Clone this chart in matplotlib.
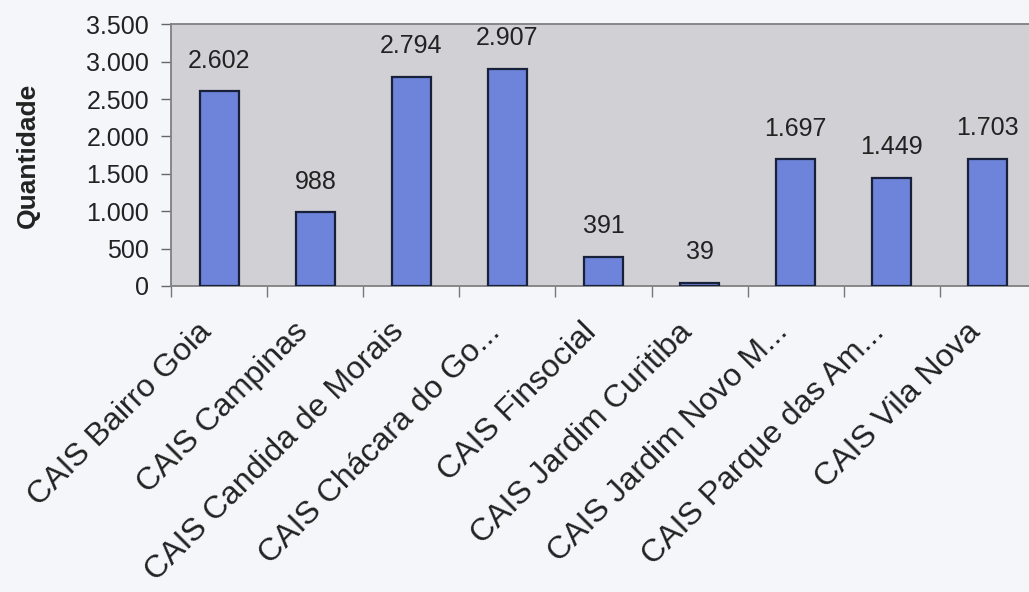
import matplotlib
matplotlib.use('Agg')
import matplotlib.pyplot as plt
import matplotlib.transforms as mtransforms
import numpy as np
from matplotlib.ticker import FuncFormatter, FixedLocator

# data
unidades = ['CAIS Bairro Goia', 'CAIS Campinas', 'CAIS Candida de Morais',
            'CAIS Chácara do Go...', 'CAIS Finsocial', 'CAIS Jardim Curitiba',
            'CAIS Jardim Novo M...', 'CAIS Parque das Am...', 'CAIS Vila Nova']
quantidade = [2602, 988, 2794, 2907, 391, 39, 1697, 1449, 1703]
yticks = [0, 500, 1000, 1500, 2000, 2500, 3000, 3500]

plt.rcParams['font.family'] = ['Liberation Sans', 'DejaVu Sans']


def milhar(v, pos=None):
    # formato brasileiro: ponto como separador de milhar
    return '{:,.0f}'.format(v).replace(',', '.')


fig = plt.figure(figsize=(10.29, 5.92), dpi=100)
fig.patch.set_facecolor('#f5f6f9')
ax = fig.add_axes([0.1665, 0.517, 0.84, 0.442])
ax.set_facecolor('#d0d0d5')

x = np.arange(len(unidades))
bars = ax.bar(x, quantidade, width=0.41, color='#6d84da',
              edgecolor='#18203a', linewidth=1.6, zorder=3)

for b, v in zip(bars, quantidade):
    ax.annotate(milhar(v), (b.get_x() + b.get_width() / 2, b.get_height()),
                xytext=(0, 22), textcoords='offset points',
                ha='center', va='center', fontsize=18, color='#222222')

ax.set_xlim(-0.5, len(unidades) - 0.5)
ax.set_ylim(0, 3500)
ax.set_yticks(yticks)
ax.yaxis.set_major_formatter(FuncFormatter(milhar))
ax.tick_params(axis='y', length=7, width=1, color='#666666',
               labelsize=18, labelcolor='#222222', pad=9)

# ticks on x axis between categories, labels at the centers
ax.set_xticks(x)
ax.set_xticklabels(unidades, rotation=45, ha='right', va='center',
                   rotation_mode='anchor', fontsize=23, color='#222222')
ax.xaxis.set_minor_locator(FixedLocator(np.arange(-0.5, len(unidades), 1.0)))
ax.tick_params(axis='x', which='major', length=0, pad=30)
ax.tick_params(axis='x', which='minor', length=8, width=1, color='#777777')
offset = mtransforms.ScaledTranslation(-12 / 100, 0, fig.dpi_scale_trans)
for lbl in ax.get_xticklabels():
    lbl.set_transform(lbl.get_transform() + offset)

for s in ['left', 'bottom', 'top', 'right']:
    ax.spines[s].set_color('#808080')
    ax.spines[s].set_linewidth(1.3)

ax.set_ylabel('Quantidade', fontsize=19, fontweight='bold', color='#222222')
ax.yaxis.set_label_coords(-0.152, 0.5)

plt.savefig('out.png', dpi=100, facecolor=fig.get_facecolor())
